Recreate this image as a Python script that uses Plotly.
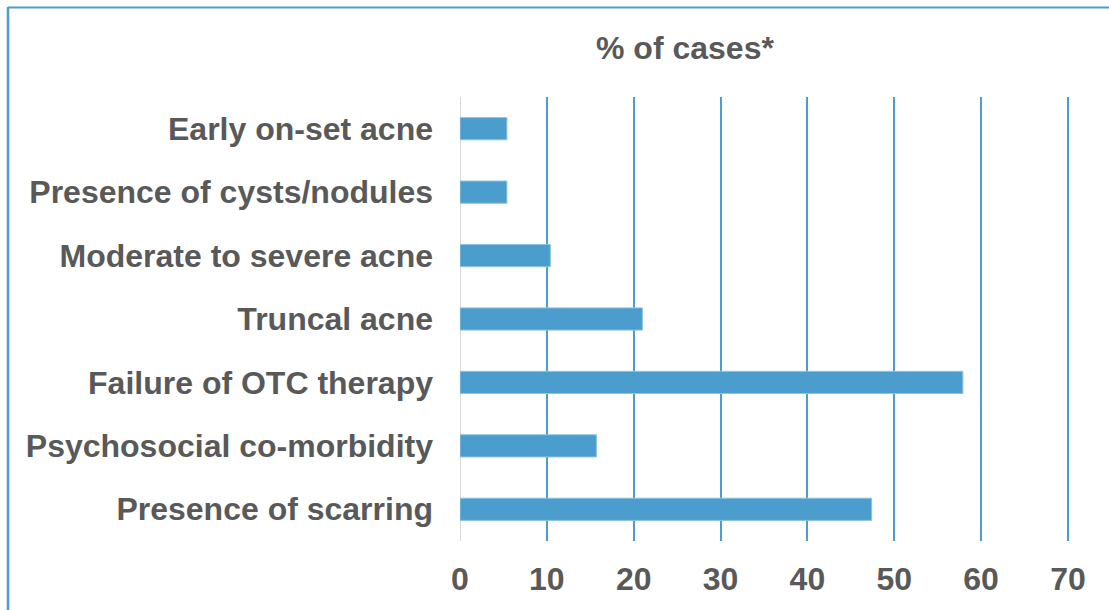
import plotly.graph_objects as go

categories = [
    "Early on-set acne",
    "Presence of cysts/nodules",
    "Moderate to severe acne",
    "Truncal acne",
    "Failure of OTC therapy",
    "Psychosocial co-morbidity",
    "Presence of scarring",
]
values = [5.4, 5.4, 10.4, 21.0, 57.9, 15.7, 47.4]
x_ticks = [0, 10, 20, 30, 40, 50, 60, 70]

BLUE = "#4a9dcc"
GREY = "#595959"
FONT = "Liberation Sans, Arial, sans-serif"

W, H = 1109, 610
ML, MR, MT, MB = 460, 38, 97, 69
pw = W - ML - MR
ph = H - MT - MB

def px_x(p):
    return (p - ML) / pw

def px_y(p):
    return 1 - (p - MT) / ph

fig = go.Figure(
    go.Bar(
        x=values,
        y=categories,
        orientation="h",
        marker=dict(color=BLUE, line=dict(color="#8cc2e2", width=1)),
    )
)

fig.update_layout(
    width=W,
    height=H,
    margin=dict(l=ML, r=MR, t=MT, b=MB),
    paper_bgcolor="white",
    plot_bgcolor="white",
    bargap=0.65,
    showlegend=False,
    font=dict(family=FONT, color=GREY, size=32),
)

fig.update_xaxes(
    range=[0, 70.35],
    tickvals=x_ticks,
    showgrid=True,
    gridcolor=BLUE,
    gridwidth=2,
    zeroline=False,
    showline=False,
    ticks="",
    ticklabelstandoff=16,
    tickfont=dict(family=FONT, size=32, color=GREY, weight="bold"),
)
fig.update_yaxes(
    autorange="reversed",
    showgrid=False,
    zeroline=False,
    showline=False,
    ticks="",
    ticklabelstandoff=26,
    tickfont=dict(family=FONT, size=32, color=GREY, weight="bold"),
)

shapes = [
    dict(type="line", xref="x", yref="paper", x0=0, x1=0, y0=0, y1=1,
         line=dict(color="#d9d9d9", width=2), layer="below"),
    dict(type="line", xref="paper", yref="paper", x0=px_x(8), x1=px_x(8),
         y0=px_y(7), y1=px_y(615), line=dict(color=BLUE, width=2.5)),
    dict(type="line", xref="paper", yref="paper", x0=px_x(8), x1=px_x(1115),
         y0=px_y(7.5), y1=px_y(7.5), line=dict(color=BLUE, width=2)),
]
fig.update_layout(shapes=shapes)

fig.add_annotation(
    text="<b>% of cases*</b>",
    xref="paper", yref="paper",
    x=px_x(685), y=px_y(48),
    xanchor="center", yanchor="middle",
    showarrow=False,
    font=dict(family=FONT, size=32, color=GREY),
)

fig.write_html(
    "out.html",
    config={"displayModeBar": False},
    post_script="document.body.style.margin='0';document.body.style.overflow='hidden';",
)
